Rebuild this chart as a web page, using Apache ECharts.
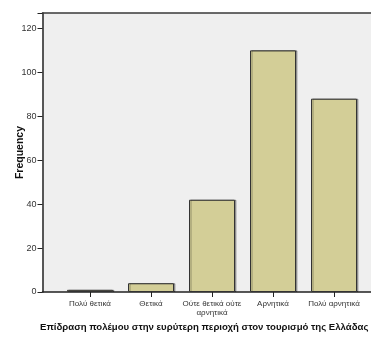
<!DOCTYPE html>
<html><head><meta charset="utf-8">
<script src="https://cdn.jsdelivr.net/npm/echarts@6/dist/echarts.min.js"></script>
<style>html,body{margin:0;padding:0;background:#fff}#c{width:371px;height:338px}</style>
</head><body><div id="c"></div>
<script>
const categories = ['Πολύ θετικά', 'Θετικά', 'Ούτε θετικά ούτε\nαρνητικά', 'Αρνητικά', 'Πολύ αρνητικά'];
const frequencies = [1, 4, 42, 110, 88];
const yTicks = [0, 20, 40, 60, 80, 100, 120];
const xTitle = 'Επίδραση πολέμου στην ευρύτερη περιοχή στον τουρισμό της Ελλάδας';
const yTitle = 'Frequency';

const chart = echarts.init(document.getElementById('c'), null, {renderer: 'canvas'});
const YMAX = 127;
chart.setOption({
  animation: false,
  grid: [
    {left: 42.5, right: 0, top: 13, bottom: 46, show: true, backgroundColor: '#efefef', borderWidth: 0, outerBoundsMode: 'none'},
    {left: 59.5, right: 6.5, top: 13, bottom: 46, outerBoundsMode: 'none'}
  ],
  xAxis: [
    {gridIndex: 0, type: 'value', min: 0, max: 1, axisLine: {show: true, onZero: false, lineStyle: {color: '#222', width: 1.5}},
     axisTick: {show: false}, axisLabel: {show: false}, splitLine: {show: false},
     name: xTitle, nameLocation: 'middle', nameGap: 30, nameMoveOverlap: false,
     nameTextStyle: {fontFamily: 'Liberation Sans', fontWeight: 'bold', fontSize: 9.6, color: '#111', padding: [0, 5, 0, 0]}},
    {gridIndex: 1, type: 'category', data: categories, axisLine: {show: false},
     axisTick: {show: true, alignWithLabel: true, length: 5, lineStyle: {color: '#222'}},
     axisLabel: {fontFamily: 'Liberation Sans Narrow, Liberation Sans', fontSize: 8, color: '#333', margin: 7, lineHeight: 9, interval: 0}},
    {gridIndex: 0, type: 'value', position: 'top', min: 0, max: 1,
     axisLine: {show: true, onZero: false, lineStyle: {color: '#3a3a3a', width: 1.5}},
     axisTick: {show: false}, axisLabel: {show: false}, splitLine: {show: false}}
  ],
  yAxis: [
    {gridIndex: 0, type: 'value', min: 0, max: YMAX, interval: 20,
     axisLine: {show: true, lineStyle: {color: '#222', width: 1.5}},
     axisTick: {show: true, length: 5, lineStyle: {color: '#222'}},
     axisLabel: {fontFamily: 'Liberation Sans Narrow, Liberation Sans', fontSize: 9, color: '#333', margin: 6,
       formatter: v => yTicks.includes(v) ? String(v) : ''},
     splitLine: {show: false},
     name: yTitle, nameLocation: 'middle', nameGap: 17, nameRotate: 90, nameMoveOverlap: false,
     nameTextStyle: {fontFamily: 'Liberation Sans', fontWeight: 'bold', fontSize: 10.5, color: '#111'}},
    {gridIndex: 1, type: 'value', min: 0, max: YMAX, show: false, splitLine: {show: false}}
  ],
  series: [{
    type: 'bar', xAxisIndex: 1, yAxisIndex: 1, data: frequencies, barWidth: 46,
    itemStyle: {color: '#d3ce97', borderColor: '#333', borderWidth: 1,
      shadowColor: 'rgba(0,0,0,0.3)', shadowOffsetX: 1.5, shadowOffsetY: 0, shadowBlur: 0}
  }]
});
</script></body></html>
